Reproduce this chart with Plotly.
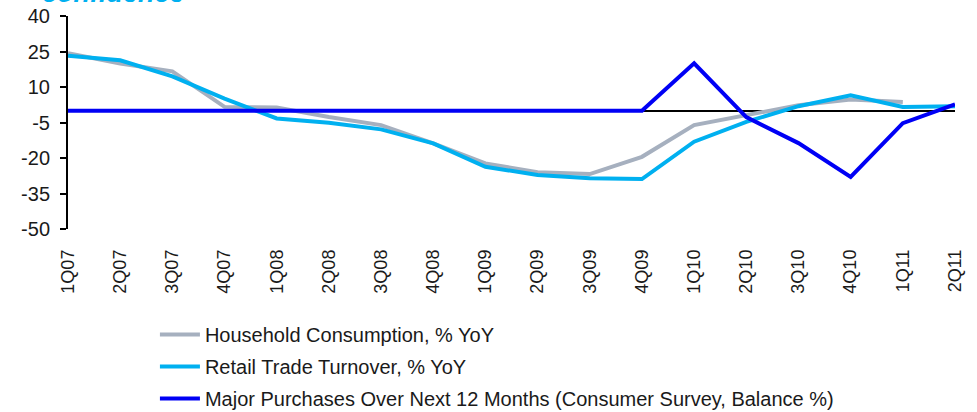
import plotly.graph_objects as go

quarters = ["1Q07", "2Q07", "3Q07", "4Q07", "1Q08", "2Q08", "3Q08", "4Q08", "1Q09",
            "2Q09", "3Q09", "4Q09", "1Q10", "2Q10", "3Q10", "4Q10", "1Q11", "2Q11"]

household = [24.3, 19.9, 16.6, 1.6, 1.3, -2.7, -6.1, -13.8, -22.3,
             -26.0, -26.8, -19.5, -6.1, -1.9, 2.3, 4.7, 3.7, None]
retail = [23.2, 21.3, 14.5, 5.1, -3.3, -5.1, -7.9, -13.8, -23.7,
          -27.2, -28.6, -28.9, -13.1, -4.7, 1.9, 6.5, 1.6, 1.9]
purchases = [0, 0, 0, 0, 0, 0, 0, 0, 0,
             0, 0, 0, 20.0, -2.7, -13.7, -28.0, -5.3, 2.7]

names = ["Household Consumption, % YoY",
         "Retail Trade Turnover, % YoY",
         "Major Purchases Over Next 12 Months (Consumer Survey, Balance %)"]
colors = ["#A6B0BF", "#00B0F0", "#0000F5"]

y_ticks = [40, 25, 10, -5, -20, -35, -50]

font_family = "Liberation Sans, Arial, sans-serif"

fig = go.Figure()
for i, (vals, name, col) in enumerate(zip([household, retail, purchases], names, colors)):
    fig.add_trace(go.Scatter(
        x=quarters, y=vals, name=name, mode="lines",
        line=dict(color=col, width=4), legendgroup=f"g{i}",
        connectgaps=False,
    ))

fig.update_layout(
    width=977, height=412,
    paper_bgcolor="white", plot_bgcolor="white",
    margin=dict(l=68, r=22, t=16, b=183, autoexpand=False),
    font=dict(family=font_family, color="#1a1a1a"),
    showlegend=True,
    legend=dict(
        orientation="v", x=0.098, xanchor="left", y=-0.404, yanchor="top",
        font=dict(size=20, family=font_family, color="#1a1a1a"),
        tracegroupgap=3, bgcolor="rgba(0,0,0,0)", itemwidth=40,
    ),
    xaxis=dict(
        type="category", range=[0, len(quarters) - 1],
        showgrid=False, showline=False, ticks="", zeroline=False,
        tickangle=-90, tickfont=dict(size=18, color="#1a1a1a"),
        ticklabelstandoff=16, automargin=False,
    ),
    xaxis2=dict(
        overlaying="x", anchor="free", position=50 / 90,
        range=[0, len(quarters) - 1], tickmode="array",
        tickvals=list(range(len(quarters))), showticklabels=False,
        ticks="outside", ticklen=6, tickwidth=2, tickcolor="black",
        showgrid=False, zeroline=False, showline=False, automargin=False,
    ),
    yaxis=dict(
        range=[-50, 40], tickmode="array", tickvals=y_ticks,
        ticktext=[str(v) for v in y_ticks],
        showgrid=False, showline=True, linecolor="black", linewidth=2,
        ticks="outside", ticklen=6, tickwidth=2, tickcolor="black",
        zeroline=True, zerolinecolor="black", zerolinewidth=2,
        tickfont=dict(size=20, color="#1a1a1a"), ticklabelstandoff=6,
        automargin=False,
    ),
)

fig.add_annotation(
    text="<b><i>confidence</i></b>", xref="paper", yref="paper",
    x=-0.032, y=1.028, xanchor="left", yanchor="bottom", showarrow=False,
    font=dict(size=27, color="#00B0F0", family=font_family),
)

fig.write_html("out.html", config={"displayModeBar": False},
               post_script="document.body.style.margin='0px';")
